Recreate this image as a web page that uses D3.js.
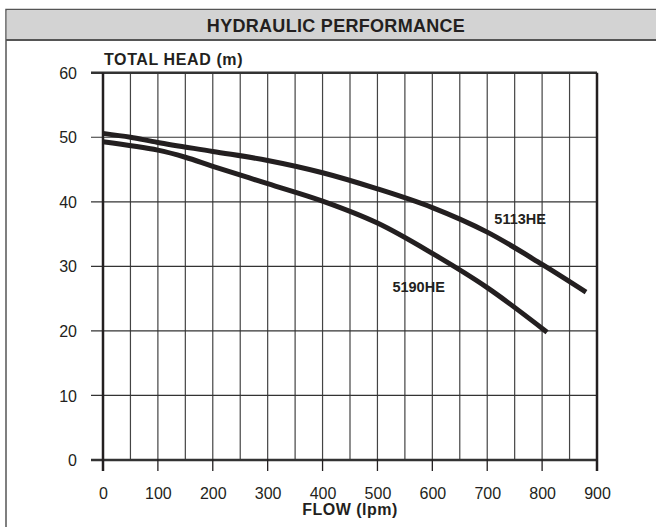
<!DOCTYPE html>
<html>
<head>
<meta charset="utf-8">
<script src="https://cdnjs.cloudflare.com/ajax/libs/d3/7.8.5/d3.min.js"></script>
<style>
  body { margin: 0; background: #fff; }
  text { font-family: "Liberation Sans", Arial, sans-serif; fill: #231f20; }
</style>
</head>
<body>
<div id="chart"></div>
<script>
// chart values
var flowTicks = [0, 100, 200, 300, 400, 500, 600, 700, 800, 900];
var flowGrid = [50, 100, 150, 200, 250, 300, 350, 400, 450, 500, 550, 600, 650, 700, 750, 800, 850];
var headTicks = [0, 10, 20, 30, 40, 50, 60];

var flow5113 = [0, 50, 100, 200, 300, 400, 500, 600, 700, 800, 880];
var head5113 = [50.6, 50.0, 49.2, 47.8, 46.4, 44.5, 42.0, 39.1, 35.3, 30.3, 26.0];

var flow5190 = [0, 100, 150, 200, 300, 400, 500, 600, 700, 809];
var head5190 = [49.3, 48.0, 46.9, 45.5, 42.8, 40.1, 36.7, 32.0, 26.7, 19.8];

var svgWidth = 656;
var svgHeight = 527;

var margin = {
  top: 72.7,
  right: 59,
  bottom: 67,
  left: 103
};

var width = svgWidth - margin.left - margin.right;
var height = svgHeight - margin.top - margin.bottom;

var svg = d3.select("#chart")
  .append("svg")
  .attr("width", svgWidth)
  .attr("height", svgHeight);

// outer frame + title bar
svg.append("rect")
  .attr("x", 6)
  .attr("y", 9.5)
  .attr("width", 660)
  .attr("height", 530)
  .attr("fill", "none")
  .attr("stroke", "#555")
  .attr("stroke-width", 1.5);

svg.append("rect")
  .attr("x", 6.75)
  .attr("y", 10.25)
  .attr("width", 660)
  .attr("height", 29.5)
  .attr("fill", "#d3d3d3");

svg.append("line")
  .attr("x1", 6)
  .attr("x2", 656)
  .attr("y1", 40)
  .attr("y2", 40)
  .attr("stroke", "#555")
  .attr("stroke-width", 2);

svg.append("text")
  .attr("x", 336)
  .attr("y", 31.5)
  .attr("text-anchor", "middle")
  .style("font-size", "18px")
  .style("letter-spacing", "0.3px")
  .style("font-weight", "bold")
  .text("HYDRAULIC PERFORMANCE");

var chartGroup = svg.append("g")
  .attr("transform", `translate(${margin.left}, ${margin.top})`);

var xScale = d3.scaleLinear()
  .domain([0, 900])
  .range([0, width]);

var yScale = d3.scaleLinear()
  .domain([0, 60])
  .range([height, 0]);

// vertical grid lines every 50
chartGroup.selectAll("line.vgrid")
  .data(flowGrid)
  .enter()
  .append("line")
  .classed("vgrid", true)
  .attr("x1", d => xScale(d))
  .attr("x2", d => xScale(d))
  .attr("y1", 0)
  .attr("y2", height)
  .attr("stroke", "#444")
  .attr("stroke-width", 1.2);

// horizontal grid lines (extend left past the axis)
chartGroup.selectAll("line.hgrid")
  .data(headTicks)
  .enter()
  .append("line")
  .classed("hgrid", true)
  .attr("x1", -12)
  .attr("x2", width)
  .attr("y1", d => yScale(d))
  .attr("y2", d => yScale(d))
  .attr("stroke", "#333")
  .attr("stroke-width", d => (d === 0 || d === 60) ? 2.5 : 1.2);

// ticks below the axis
chartGroup.selectAll("line.xtick")
  .data(flowTicks)
  .enter()
  .append("line")
  .classed("xtick", true)
  .attr("x1", d => xScale(d))
  .attr("x2", d => xScale(d))
  .attr("y1", d => (d === 0 || d === 900) ? 0 : height - 1)
  .attr("y2", height + 11)
  .attr("stroke", "#231f20")
  .attr("stroke-width", d => (d === 0 || d === 900) ? 2.5 : 1.3);

// axes (labels only)
var bottomAxis = d3.axisBottom(xScale).tickValues(flowTicks).tickSize(0).tickPadding(28);
var leftAxis = d3.axisLeft(yScale).tickValues(headTicks).tickSize(0).tickPadding(26);

var xAxisG = chartGroup.append("g")
  .attr("transform", `translate(0, ${height})`)
  .call(bottomAxis);

var yAxisG = chartGroup.append("g")
  .call(leftAxis);

[xAxisG, yAxisG].forEach(function(g) {
  g.select(".domain").remove();
  g.selectAll("text")
    .attr("fill", "#231f20")
    .style("font-size", "16px")
    .style("font-family", "'Liberation Sans', Arial, sans-serif");
});
yAxisG.selectAll("text").attr("dy", "0.35em");

// curves
var line = d3.line()
  .x(d => xScale(d[0]))
  .y(d => yScale(d[1]))
  .curve(d3.curveCatmullRom);

var series = [
  { name: "5113HE", flow: flow5113, head: head5113 },
  { name: "5190HE", flow: flow5190, head: head5190 }
];

chartGroup.selectAll("path.curve")
  .data(series)
  .enter()
  .append("path")
  .classed("curve", true)
  .attr("d", s => line(s.flow.map((f, i) => [f, s.head[i]])))
  .attr("fill", "none")
  .attr("stroke", "#231f20")
  .attr("stroke-width", 5);

// curve labels
chartGroup.append("text")
  .attr("x", xScale(760))
  .attr("y", yScale(36.5))
  .attr("text-anchor", "middle")
  .style("font-size", "14.5px")
  .style("font-weight", "bold")
  .text("5113HE");

chartGroup.append("text")
  .attr("x", xScale(575))
  .attr("y", yScale(26))
  .attr("text-anchor", "middle")
  .style("font-size", "14.5px")
  .style("font-weight", "bold")
  .text("5190HE");

// axis titles
chartGroup.append("text")
  .attr("x", 1)
  .attr("y", -8)
  .style("font-size", "16px")
  .style("letter-spacing", "0.6px")
  .style("font-weight", "bold")
  .text("TOTAL HEAD (m)");

chartGroup.append("text")
  .attr("x", width / 2)
  .attr("y", height + 55)
  .attr("text-anchor", "middle")
  .style("font-size", "16px")
  .style("letter-spacing", "0.5px")
  .style("font-weight", "bold")
  .text("FLOW (lpm)");
</script>
</body>
</html>
